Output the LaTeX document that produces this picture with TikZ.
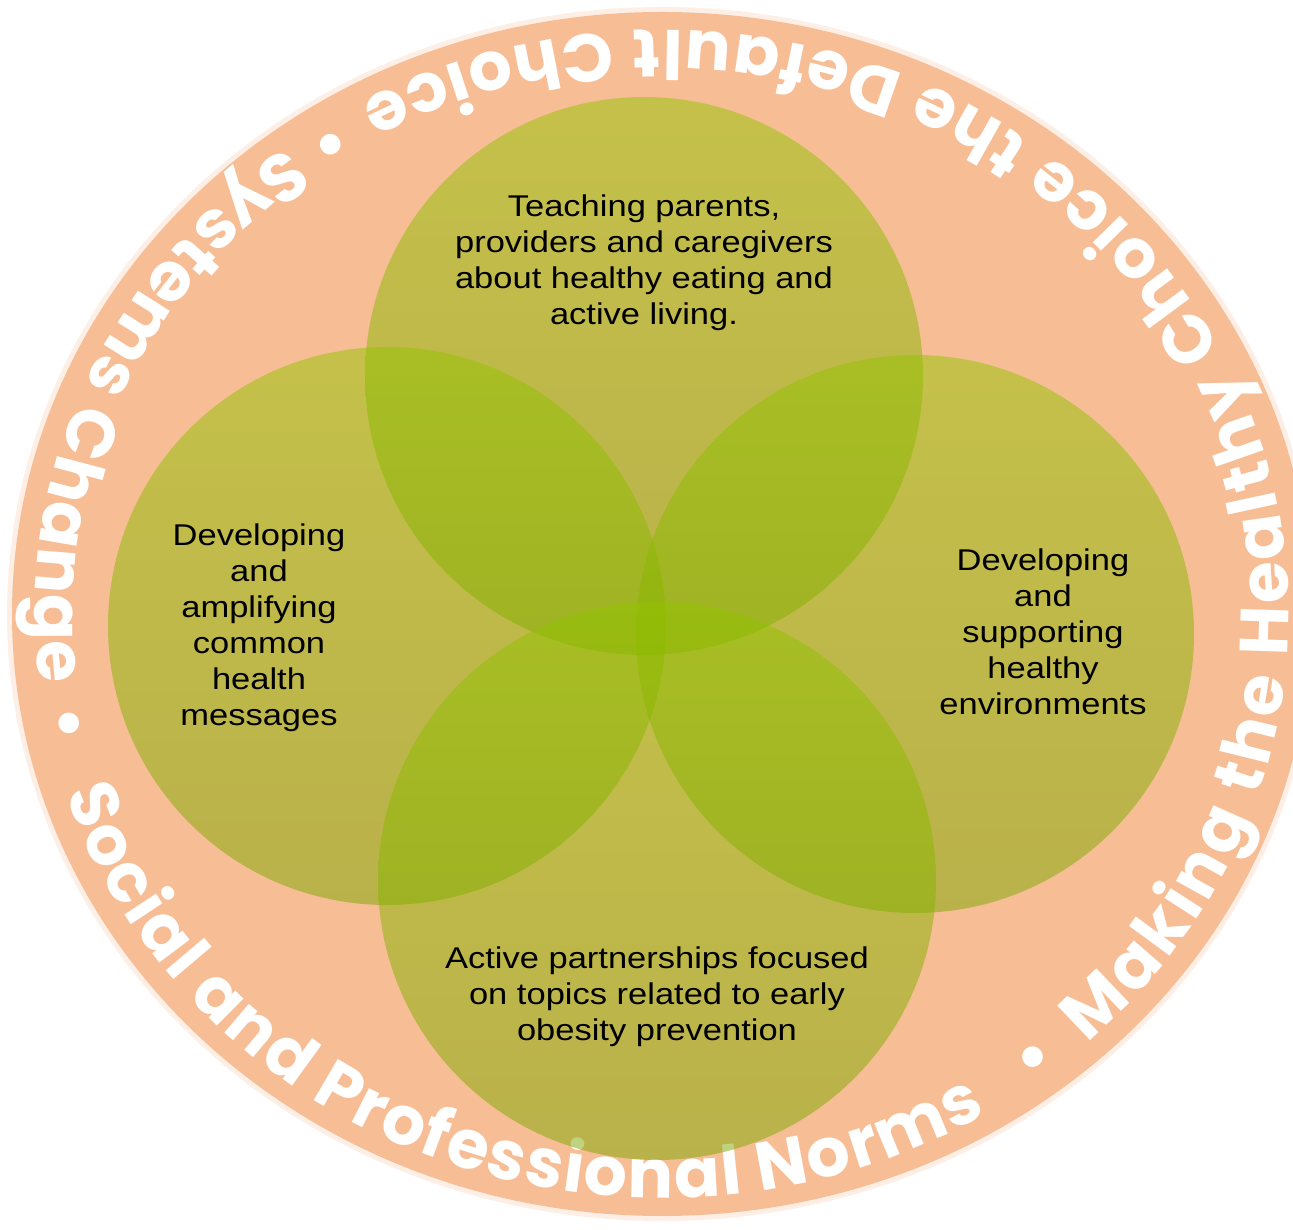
\documentclass[tikz,border=0pt]{standalone}
\usepackage{fontspec}
\setmainfont{Liberation Sans}
\newfontfamily\lblfont{Liberation Sans}[FakeStretch=1.15]
\newfontfamily\arcfont{Poppins}
\usetikzlibrary{decorations.text}
\definecolor{salmon}{RGB}{247,190,150}
\definecolor{gtop}{RGB}{147,196,0}
\definecolor{gbot}{RGB}{125,166,0}
\tikzset{
  petal/.style={circle, minimum size=558pt, inner sep=0pt, top color=gtop, bottom color=gbot, fill opacity=0.5, draw=none},
  lbl/.style={align=center, font=\lblfont\fontsize{30}{36}\selectfont, text=black, inner sep=0pt},
  arctext/.style={decorate, decoration={text along path, text align=fit to path,
     text={|\color{white}\arcfont\bfseries\fontsize{68}{68}\selectfont|#1}}},
  dottext/.style={decorate, decoration={text along path, text align=center,
     text={|\color{white}\arcfont\bfseries\fontsize{68}{68}\selectfont|#1}}}
}
\begin{document}
\begin{tikzpicture}[x=1pt,y=1pt]
\useasboundingbox (0,0) rectangle (1293,1229);
% outer disc
\fill[salmon!25!white] (662,615) ellipse[x radius=655, y radius=607];
\fill[salmon] (662,615) ellipse[x radius=650, y radius=602];
% curved texts
\path[arctext={Systems Change}] (662,615) ++(126.9:627 and 584) arc[start angle=126.9, end angle=186.9, x radius=627, y radius=584];
\path[arctext={Social and Professional Norms}] (662,615) ++(197.9:627 and 584) arc[start angle=197.9, end angle=301.2, x radius=627, y radius=584];
\path[arctext={Making the Healthy Choice the Default Choice}] (662,615) ++(312.7:627 and 584) arc[start angle=312.7, end angle=478.8, x radius=627, y radius=584];
\path[dottext={•}] (662,615) ++(113.2:627 and 584) arc[start angle=113.2, end angle=133.2, x radius=627, y radius=584];
\path[dottext={•}] (662,615) ++(181.2:627 and 584) arc[start angle=181.2, end angle=201.2, x radius=627, y radius=584];
\path[dottext={•}] (662,615) ++(297.9:627 and 584) arc[start angle=297.9, end angle=317.9, x radius=627, y radius=584];
% petals
\node[petal] (cT) at (644,853) {};
\node[petal] (cL) at (387,603) {};
\node[petal] (cR) at (915,595) {};
\node[petal] (cB) at (657,348) {};
% labels
\node[lbl] (tT) at (644,966) {Teaching parents,\\providers and caregivers\\about healthy eating and\\active living.};
\node[lbl] (tL) at (259,601) {Developing\\and\\amplifying\\common\\health\\messages};
\node[lbl] (tR) at (1043,597) {Developing\\and\\supporting\\healthy\\environments};
\node[lbl] (tB) at (657,232) {Active partnerships focused\\on topics related to early\\obesity prevention};
\end{tikzpicture}
\end{document}
